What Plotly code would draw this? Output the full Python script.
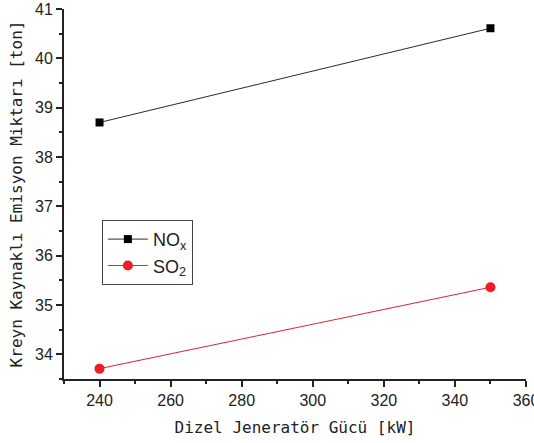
import plotly.graph_objects as go

power_kw = [240, 350]
nox = [38.70, 40.61]
so2 = [33.71, 35.36]
series_names = ["NO<sub>x</sub>", "SO<sub>2</sub>"]

fig = go.Figure()
fig.add_trace(go.Scatter(
    x=power_kw, y=nox, name=series_names[0], mode="lines+markers",
    line=dict(color="#2a2a2a", width=1),
    marker=dict(symbol="square", size=8, color="black"),
))
fig.add_trace(go.Scatter(
    x=power_kw, y=so2, name=series_names[1], mode="lines+markers",
    line=dict(color="#d8262c", width=1),
    marker=dict(symbol="circle", size=10, color="#ee1c24"),
))

tick_font = dict(family="Liberation Sans, Arial, sans-serif", size=16, color="#222")
title_font = dict(family="DejaVu Sans Mono, monospace", size=16, color="#222")

fig.update_layout(
    width=534, height=443,
    margin=dict(l=64, r=8, t=9, b=64),
    plot_bgcolor="white", paper_bgcolor="white",
    showlegend=True,
    legend=dict(
        x=0.082, y=0.43, xanchor="left", yanchor="top",
        bordercolor="#444", borderwidth=1, bgcolor="white",
        font=dict(family="Liberation Sans, Arial, sans-serif", size=18, color="#222"),
        itemwidth=40, tracegroupgap=2,
    ),
    xaxis=dict(
        range=[230, 360], dtick=20, tick0=0,
        showgrid=False, zeroline=False,
        showline=True, linecolor="#222", linewidth=2,
        ticks="outside", ticklen=6, tickwidth=1.5, tickcolor="#222",
        minor=dict(ticks="outside", dtick=10, ticklen=3, tickwidth=1.5, tickcolor="#222", showgrid=False),
        tickfont=tick_font, ticklabeloverflow="allow",
        title=dict(text="Dizel Jeneratör Gücü [kW]", font=title_font, standoff=14),
        automargin=False,
    ),
    yaxis=dict(
        range=[33.5, 41], dtick=1,
        showgrid=False, zeroline=False,
        showline=True, linecolor="#222", linewidth=2,
        ticks="outside", ticklen=6, tickwidth=1.5, tickcolor="#222",
        minor=dict(ticks="outside", dtick=0.5, ticklen=3, tickwidth=1.5, tickcolor="#222", showgrid=False),
        tickfont=tick_font,
        title=dict(text="Kreyn Kaynaklı Emisyon Miktarı [ton]", font=title_font, standoff=8),
        automargin=False,
    ),
)

fig.write_html(
    "out.html",
    config={"displayModeBar": False},
    post_script="document.body.style.margin='0';document.body.style.overflow='hidden';",
)
